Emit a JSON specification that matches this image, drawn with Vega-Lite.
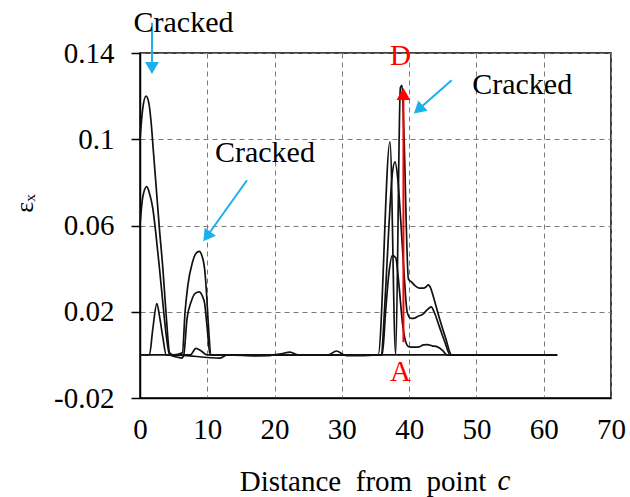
{
  "$schema": "https://vega.github.io/schema/vega-lite/v6.json",
  "autosize": {"type": "none"},
  "width": 471,
  "height": 345,
  "padding": {"left": 140, "top": 53, "right": 19, "bottom": 99},
  "background": "white",
  "config": {
    "font": "Liberation Serif",
    "view": {"stroke": "black", "strokeWidth": 1.5},
    "axis": {"labelColor": "black", "titleColor": "black", "titleFontWeight": "normal", "domainColor": "black", "domainWidth": 1.5}
  },
  "datasets": {
    "lines": [
      {"s": "S1", "x": 0, "y": 0.1}, {"s": "S1", "x": 0.4, "y": 0.114}, {"s": "S1", "x": 0.9, "y": 0.12}, {"s": "S1", "x": 1.3, "y": 0.117}, {"s": "S1", "x": 1.65, "y": 0.108}, {"s": "S1", "x": 2.0, "y": 0.094}, {"s": "S1", "x": 2.4, "y": 0.078}, {"s": "S1", "x": 2.9, "y": 0.058}, {"s": "S1", "x": 3.4, "y": 0.04}, {"s": "S1", "x": 3.9, "y": 0.018}, {"s": "S1", "x": 4.4, "y": 0.001}, {"s": "S1", "x": 5.0, "y": 0}, {"s": "S1", "x": 6.3, "y": 0.001}, {"s": "S1", "x": 6.7, "y": 0.02}, {"s": "S1", "x": 7.1, "y": 0.032}, {"s": "S1", "x": 7.8, "y": 0.043}, {"s": "S1", "x": 8.3, "y": 0.047}, {"s": "S1", "x": 8.8, "y": 0.048}, {"s": "S1", "x": 9.2, "y": 0.046}, {"s": "S1", "x": 9.6, "y": 0.04}, {"s": "S1", "x": 9.9, "y": 0.028}, {"s": "S1", "x": 10.1, "y": 0.017}, {"s": "S1", "x": 10.6, "y": 0}, {"s": "S1", "x": 20, "y": 0}, {"s": "S1", "x": 38.0, "y": 0}, {"s": "S1", "x": 38.7, "y": 0.124}, {"s": "S1", "x": 38.95, "y": 0.125}, {"s": "S1", "x": 39.2, "y": 0.105}, {"s": "S1", "x": 39.9, "y": 0.035}, {"s": "S1", "x": 40.3, "y": 0.034}, {"s": "S1", "x": 40.9, "y": 0.032}, {"s": "S1", "x": 41.5, "y": 0.031}, {"s": "S1", "x": 42.1, "y": 0.031}, {"s": "S1", "x": 42.5, "y": 0.0315}, {"s": "S1", "x": 42.85, "y": 0.0325}, {"s": "S1", "x": 43.2, "y": 0.031}, {"s": "S1", "x": 43.6, "y": 0.027}, {"s": "S1", "x": 44.5, "y": 0.017}, {"s": "S1", "x": 45.4, "y": 0.008}, {"s": "S1", "x": 46.3, "y": 0}, {"s": "S1", "x": 62, "y": 0},
      {"s": "S2", "x": 0, "y": 0.06}, {"s": "S2", "x": 0.4, "y": 0.073}, {"s": "S2", "x": 1.0, "y": 0.078}, {"s": "S2", "x": 1.4, "y": 0.075}, {"s": "S2", "x": 1.9, "y": 0.068}, {"s": "S2", "x": 2.4, "y": 0.055}, {"s": "S2", "x": 2.9, "y": 0.04}, {"s": "S2", "x": 3.4, "y": 0.024}, {"s": "S2", "x": 3.9, "y": 0.009}, {"s": "S2", "x": 4.4, "y": 0}, {"s": "S2", "x": 5.5, "y": -0.001}, {"s": "S2", "x": 6.2, "y": -0.0015}, {"s": "S2", "x": 6.5, "y": 0}, {"s": "S2", "x": 7.0, "y": 0.017}, {"s": "S2", "x": 7.6, "y": 0.0246}, {"s": "S2", "x": 8.2, "y": 0.0285}, {"s": "S2", "x": 8.8, "y": 0.0292}, {"s": "S2", "x": 9.3, "y": 0.027}, {"s": "S2", "x": 9.6, "y": 0.024}, {"s": "S2", "x": 10.0, "y": 0.012}, {"s": "S2", "x": 10.4, "y": 0}, {"s": "S2", "x": 20, "y": 0}, {"s": "S2", "x": 35.8, "y": 0}, {"s": "S2", "x": 36.5, "y": 0.03}, {"s": "S2", "x": 37.0, "y": 0.06}, {"s": "S2", "x": 37.5, "y": 0.084}, {"s": "S2", "x": 37.9, "y": 0.0895}, {"s": "S2", "x": 38.3, "y": 0.082}, {"s": "S2", "x": 38.8, "y": 0.06}, {"s": "S2", "x": 39.3, "y": 0.035}, {"s": "S2", "x": 39.7, "y": 0.02}, {"s": "S2", "x": 40.2, "y": 0.017}, {"s": "S2", "x": 40.6, "y": 0.0169}, {"s": "S2", "x": 41.4, "y": 0.018}, {"s": "S2", "x": 42.1, "y": 0.019}, {"s": "S2", "x": 42.7, "y": 0.021}, {"s": "S2", "x": 43.3, "y": 0.0223}, {"s": "S2", "x": 43.7, "y": 0.02}, {"s": "S2", "x": 44.5, "y": 0.013}, {"s": "S2", "x": 45.3, "y": 0.006}, {"s": "S2", "x": 46.1, "y": 0}, {"s": "S2", "x": 62, "y": 0},
      {"s": "S3", "x": 0, "y": 0}, {"s": "S3", "x": 1.4, "y": 0}, {"s": "S3", "x": 1.9, "y": 0.012}, {"s": "S3", "x": 2.5, "y": 0.0238}, {"s": "S3", "x": 2.9, "y": 0.018}, {"s": "S3", "x": 3.4, "y": 0.008}, {"s": "S3", "x": 3.9, "y": 0}, {"s": "S3", "x": 7.5, "y": 0}, {"s": "S3", "x": 8.3, "y": 0.003}, {"s": "S3", "x": 9.0, "y": 0.002}, {"s": "S3", "x": 10, "y": 0}, {"s": "S3", "x": 36.0, "y": 0}, {"s": "S3", "x": 36.5, "y": 0.02}, {"s": "S3", "x": 37.0, "y": 0.038}, {"s": "S3", "x": 37.5, "y": 0.046}, {"s": "S3", "x": 38.0, "y": 0.045}, {"s": "S3", "x": 38.5, "y": 0.032}, {"s": "S3", "x": 39.0, "y": 0.015}, {"s": "S3", "x": 39.5, "y": 0.006}, {"s": "S3", "x": 40.0, "y": 0.0037}, {"s": "S3", "x": 40.8, "y": 0.0036}, {"s": "S3", "x": 41.5, "y": 0.0037}, {"s": "S3", "x": 42.1, "y": 0.0046}, {"s": "S3", "x": 42.7, "y": 0.0048}, {"s": "S3", "x": 43.4, "y": 0.0042}, {"s": "S3", "x": 44.2, "y": 0.0037}, {"s": "S3", "x": 45.0, "y": 0.002}, {"s": "S3", "x": 45.6, "y": 0}, {"s": "S3", "x": 62, "y": 0},
      {"s": "S4", "x": 0, "y": 0}, {"s": "S4", "x": 5, "y": 0}, {"s": "S4", "x": 11.9, "y": -0.0015}, {"s": "S4", "x": 13, "y": 0}, {"s": "S4", "x": 17.5, "y": -0.0005}, {"s": "S4", "x": 21, "y": 0.0005}, {"s": "S4", "x": 22.3, "y": 0.0013}, {"s": "S4", "x": 23.5, "y": 0}, {"s": "S4", "x": 28, "y": 0}, {"s": "S4", "x": 29.2, "y": 0.0018}, {"s": "S4", "x": 30.3, "y": 0}, {"s": "S4", "x": 31, "y": -0.0004}, {"s": "S4", "x": 35.4, "y": 0}, {"s": "S4", "x": 37.15, "y": 0.0988}, {"s": "S4", "x": 38.0, "y": 0}, {"s": "S4", "x": 46, "y": 0}, {"s": "S4", "x": 62, "y": 0}
    ],
    "blueArrows": [
      {"id": "a1", "x": 1.78, "y": 0.154, "x2": 1.78, "y2": 0.133},
      {"id": "a2", "x": 15.9, "y": 0.081, "x2": 9.93, "y2": 0.0549},
      {"id": "a3", "x": 46.32, "y": 0.1274, "x2": 41.38, "y2": 0.1138}
    ],
    "redArrow": [
      {"id": "r", "x": 39.15, "y": 0.0059, "x2": 39.15, "y2": 0.121}
    ],
    "cracked": [
      {"x": 6.46, "y": 0.1498, "t": "Cracked"},
      {"x": 18.57, "y": 0.0895, "t": "Cracked"},
      {"x": 56.8, "y": 0.1212, "t": "Cracked"}
    ],
    "points": [
      {"x": 38.7, "y": 0.1344, "t": "D"},
      {"x": 38.7, "y": -0.0122, "t": "A"}
    ],
    "italic": [
      {"x": 54.1, "y": -0.0628, "t": "c"}
    ]
  },
  "encoding": {
    "x": {
      "field": "x", "type": "quantitative",
      "scale": {"domain": [0, 70], "nice": false, "zero": false},
      "axis": {
        "values": [0, 10, 20, 30, 40, 50, 60, 70],
        "grid": true, "gridDash": [5, 4], "gridColor": "#7a7a7a", "gridWidth": 1, "gridOpacity": 1,
        "ticks": false, "labelFlush": false,
        "labelFontSize": 29, "labelPadding": 17, "labelFont": "Liberation Serif",
        "title": "Distance\u00a0\u00a0from\u00a0\u00a0point", "titleFont": "Liberation Serif", "titleFontSize": 29,
        "titleX": 222.5, "titleY": 92, "titleBaseline": "alphabetic", "titleAlign": "center", "titleAnchor": null
      }
    },
    "y": {
      "field": "y", "type": "quantitative",
      "scale": {"domain": [-0.02, 0.14], "nice": false, "zero": false},
      "axis": {
        "values": [-0.02, 0.02, 0.06, 0.1, 0.14],
        "labelExpr": "replace(format(datum.value, '~g'), '\u2212', '-')",
        "grid": true, "gridDash": [5, 4], "gridColor": "#7a7a7a", "gridWidth": 1, "gridOpacity": 1,
        "ticks": true, "tickSize": 9, "tickColor": "black", "tickWidth": 1.5,
        "labelFontSize": 29, "labelPadding": 17, "labelFont": "Liberation Serif",
        "title": "\u03b5\u2093", "titleFont": "Liberation Serif", "titleFontSize": 26,
        "titleX": -116, "titleY": 150, "titleAngle": -90, "titleBaseline": "middle", "titleAlign": "center"
      }
    }
  },
  "layer": [
    {
      "data": {"name": "lines"},
      "mark": {"type": "line", "color": "#111111", "strokeWidth": 1.7, "interpolate": "monotone"},
      "encoding": {"detail": {"field": "s", "type": "nominal"}}
    },
    {
      "data": {"name": "redArrow"},
      "mark": {"type": "rule", "color": "#ff0000", "strokeWidth": 2},
      "encoding": {"x2": {"field": "x2"}, "y2": {"field": "y2"}}
    },
    {
      "data": {"name": "redArrow"},
      "mark": {"type": "point", "shape": "triangle-up", "filled": true, "color": "#ff0000", "size": 190, "opacity": 1},
      "encoding": {"x": {"field": "x2", "type": "quantitative"}, "y": {"field": "y2", "type": "quantitative"}}
    },
    {
      "data": {"name": "blueArrows"},
      "mark": {"type": "rule", "color": "#1ab0ec", "strokeWidth": 2},
      "encoding": {"x2": {"field": "x2"}, "y2": {"field": "y2"}}
    },
    {
      "data": {"name": "blueArrows"},
      "transform": [{"filter": "datum.id == 'a1'"}],
      "mark": {"type": "point", "shape": "triangle-up", "angle": 180, "filled": true, "color": "#1ab0ec", "size": 190, "opacity": 1},
      "encoding": {"x": {"field": "x2", "type": "quantitative"}, "y": {"field": "y2", "type": "quantitative"}}
    },
    {
      "data": {"name": "blueArrows"},
      "transform": [{"filter": "datum.id == 'a2'"}],
      "mark": {"type": "point", "shape": "triangle-up", "angle": 215.5, "filled": true, "color": "#1ab0ec", "size": 190, "opacity": 1},
      "encoding": {"x": {"field": "x2", "type": "quantitative"}, "y": {"field": "y2", "type": "quantitative"}}
    },
    {
      "data": {"name": "blueArrows"},
      "transform": [{"filter": "datum.id == 'a3'"}],
      "mark": {"type": "point", "shape": "triangle-up", "angle": 228.5, "filled": true, "color": "#1ab0ec", "size": 190, "opacity": 1},
      "encoding": {"x": {"field": "x2", "type": "quantitative"}, "y": {"field": "y2", "type": "quantitative"}}
    },
    {
      "data": {"name": "cracked"},
      "mark": {"type": "text", "font": "Liberation Serif", "fontSize": 30, "color": "black", "align": "center", "baseline": "alphabetic"},
      "encoding": {"text": {"field": "t"}}
    },
    {
      "data": {"name": "points"},
      "mark": {"type": "text", "font": "Liberation Serif", "fontSize": 29, "color": "#ff0000", "align": "center", "baseline": "alphabetic"},
      "encoding": {"text": {"field": "t"}}
    },
    {
      "data": {"name": "italic"},
      "mark": {"type": "text", "font": "Liberation Serif", "fontSize": 29, "fontStyle": "italic", "color": "black", "align": "center", "baseline": "alphabetic"},
      "encoding": {"text": {"field": "t"}}
    }
  ]
}
